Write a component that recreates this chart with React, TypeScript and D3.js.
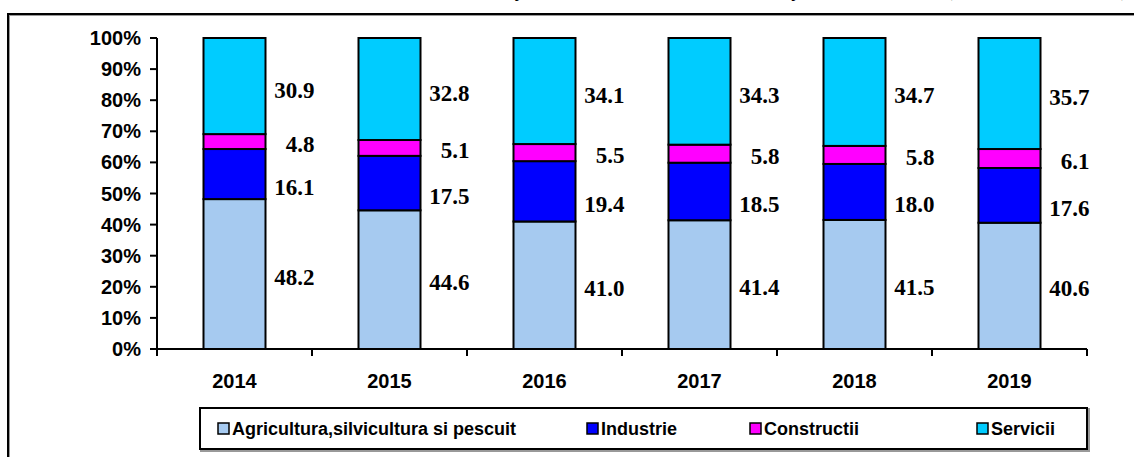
import React from "react";
import * as d3 from "d3";

const years = ["2014", "2015", "2016", "2017", "2018", "2019"];
const agricultura = [48.2, 44.6, 41.0, 41.4, 41.5, 40.6];
const industrie = [16.1, 17.5, 19.4, 18.5, 18.0, 17.6];
const constructii = [4.8, 5.1, 5.5, 5.8, 5.8, 6.1];
const servicii = [30.9, 32.8, 34.1, 34.3, 34.7, 35.7];
const seriesNames = ["Agricultura,silvicultura si pescuit", "Industrie", "Constructii", "Servicii"];
const seriesColors = ["#A6CAF0", "#0000FF", "#FF00FF", "#00CCFF"];
const yTicks = [0, 10, 20, 30, 40, 50, 60, 70, 80, 90, 100];
const titleText = "STRUCTURA POPULAŢIEI OCUPATE PE ACTIVITĂŢI ECONOMICE (ÎN PROCENTE, %)";

const W = 1134;
const H = 457;
const left = 157;
const right = 1087;
const top = 38;
const bottom = 349;

// nudges so labels sit like in the original (industrie labels were moved down)
const labelShift = [3, 13, 3, 4];

export default function App() {
  const rows = years.map((y, i) => ({
    year: y,
    s0: agricultura[i],
    s1: industrie[i],
    s2: constructii[i],
    s3: servicii[i],
  }));
  const stack = d3.stack<any>().keys(["s0", "s1", "s2", "s3"])(rows);

  const x = d3.scaleBand().domain(years).range([left, right]).paddingInner(0).paddingOuter(0);
  const y = d3.scaleLinear().domain([0, 100]).range([bottom, top]);
  const bw = x.bandwidth() * 0.4;

  const sans = "'Liberation Sans', Arial, sans-serif";
  const serif = "'Liberation Serif', 'Times New Roman', serif";

  const legendItems = [
    { x: 218, text: seriesNames[0] },
    { x: 587, text: seriesNames[1] },
    { x: 750, text: seriesNames[2] },
    { x: 977, text: seriesNames[3] },
  ];

  return (
    <svg width={W} height={H} style={{ position: "absolute", left: 0, top: 0, background: "#fff" }}>
      {/* title sits mostly above the visible area, as in the original crop */}
      <text x={300} y={-4} fontFamily={serif} fontWeight="bold" fontSize={20}>
        {titleText}
      </text>
      {/* outer frame */}
      <rect x={9} y={15} width={1200} height={500} fill="none" stroke="#999" strokeWidth={2} />
      <rect x={8} y={14} width={1200} height={500} fill="none" stroke="#000" strokeWidth={2} />

      {/* bars */}
      {stack.map((layer, si) =>
        layer.map((d, i) => (
          <rect
            key={`${si}-${i}`}
            x={(x(years[i]) as number) + (x.bandwidth() - bw) / 2}
            y={y(d[1])}
            width={bw}
            height={y(d[0]) - y(d[1])}
            fill={seriesColors[si]}
            stroke="#000"
            strokeWidth={2}
          />
        ))
      )}

      {/* value labels */}
      {stack.map((layer, si) =>
        layer.map((d, i) => (
          <text
            key={`l${si}-${i}`}
            x={(x(years[i]) as number) + (x.bandwidth() + bw) / 2 + 49}
            y={y((d[0] + d[1]) / 2) + labelShift[si]}
            textAnchor="end"
            dominantBaseline="central"
            fontFamily={serif}
            fontWeight="bold"
            fontSize={23}
          >
            {(d[1] - d[0]).toFixed(1)}
          </text>
        ))
      )}

      {/* y axis */}
      <line x1={left} x2={left} y1={top} y2={bottom} stroke="#000" strokeWidth={2} />
      {yTicks.map((t) => (
        <g key={t}>
          <line x1={left - 7} x2={left} y1={y(t)} y2={y(t)} stroke="#000" strokeWidth={2} />
          <text
            x={left - 16}
            y={y(t)}
            textAnchor="end"
            dominantBaseline="central"
            fontFamily={sans}
            fontWeight="bold"
            fontSize={20}
          >
            {t}%
          </text>
        </g>
      ))}

      {/* x axis */}
      <line x1={left} x2={right} y1={bottom} y2={bottom} stroke="#000" strokeWidth={2} />
      {[...years.map((yr) => x(yr) as number), right].map((p, i) => (
        <line key={i} x1={p} x2={p} y1={bottom} y2={bottom + 7} stroke="#000" strokeWidth={2} />
      ))}
      {years.map((yr) => (
        <text
          key={yr}
          x={(x(yr) as number) + x.bandwidth() / 2}
          y={388}
          textAnchor="middle"
          fontFamily={sans}
          fontWeight="bold"
          fontSize={20}
        >
          {yr}
        </text>
      ))}

      {/* legend */}
      <rect x={201} y={409} width={888} height={42} fill="none" stroke="#999" strokeWidth={2} />
      <rect x={200} y={408} width={887} height={41} fill="#fff" stroke="#000" strokeWidth={2} />
      {legendItems.map((it, i) => (
        <g key={i}>
          <rect x={it.x} y={423} width={11} height={11} fill={seriesColors[i]} stroke="#000" strokeWidth={1.5} />
          <text x={it.x + 14} y={435} fontFamily={sans} fontWeight="bold" fontSize={18}>
            {it.text}
          </text>
        </g>
      ))}
    </svg>
  );
}
